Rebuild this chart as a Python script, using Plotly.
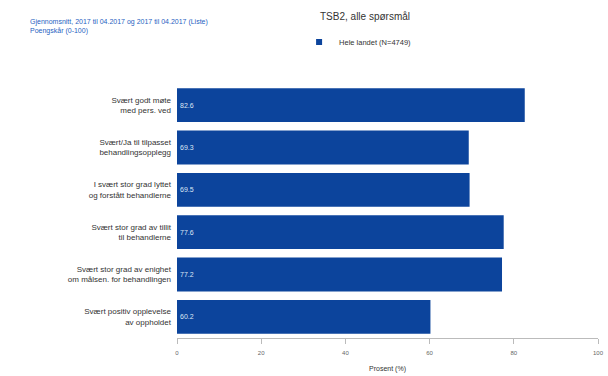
import plotly.graph_objects as go

categories = [
    "Svært godt møte<br>med pers. ved",
    "Svært/Ja til tilpasset<br>behandlingsopplegg",
    "I svært stor grad lyttet<br>og forstått behandlerne",
    "Svært stor grad av tillit<br>til behandlerne",
    "Svært stor grad av enighet<br>om målsen. for behandlingen",
    "Svært positiv opplevelse<br>av oppholdet",
]
values = [82.6, 69.3, 69.5, 77.6, 77.2, 60.2]
series_name = "Hele landet (N=4749)"
tick_vals = [0, 20, 40, 60, 80, 100]

bar_color = "#0c449c"

fig = go.Figure()
fig.add_trace(go.Bar(
    y=categories, x=values, orientation="h", name=series_name,
    marker=dict(color=bar_color, line=dict(width=0)),
    width=0.8,
    text=[f"{v:.1f}" for v in values], textposition="inside",
    insidetextanchor="start",
    textfont=dict(color="#dde6f5", size=7, family="Liberation Sans"),
    showlegend=False,
))
fig.add_trace(go.Scatter(
    x=[None], y=[None], mode="markers", name=series_name,
    marker=dict(color=bar_color, symbol="square", size=6),
    showlegend=True,
))

fig.update_layout(
    width=608, height=376,
    margin=dict(l=177, r=10, t=84, b=38, autoexpand=False),
    paper_bgcolor="white", plot_bgcolor="white",
    font=dict(family="Liberation Sans", size=7, color="#333333"),
    bargap=0.2,
    xaxis=dict(range=[0, 100], tickvals=tick_vals, showgrid=False, zeroline=False,
               showline=True, linecolor="#bbbbbb", ticks="outside", tickcolor="#bbbbbb",
               ticklen=5, tickfont=dict(size=6, color="#666666"), ticklabelstandoff=4,
               title=dict(text="Prosent (%)", font=dict(size=7, color="#333333"), standoff=10)),
    yaxis=dict(autorange="reversed", showgrid=False, showline=False, ticks="",
               tickfont=dict(size=8, color="#333333"), ticklabelstandoff=5),
    legend=dict(orientation="h", x=0.29, xanchor="left", y=1.165, yanchor="middle",
                font=dict(size=7.5, color="#333333"), bgcolor="rgba(0,0,0,0)",
                itemwidth=30),
    showlegend=True,
)

fig.add_annotation(text="TSB2, alle spørsmål", xref="paper", yref="paper",
                   x=0.335, y=1.265, xanchor="left", yanchor="middle", showarrow=False,
                   font=dict(size=10, color="#333333"))
fig.add_annotation(text="Gjennomsnitt, 2017 til 04.2017 og 2017 til 04.2017 (Liste)<br>Poengskår (0-100)",
                   xref="paper", yref="paper", x=-0.355, y=1.225, xanchor="left",
                   yanchor="middle", showarrow=False, align="left",
                   font=dict(size=7, color="#1f5fbf"))

fig.write_html("out.html")
